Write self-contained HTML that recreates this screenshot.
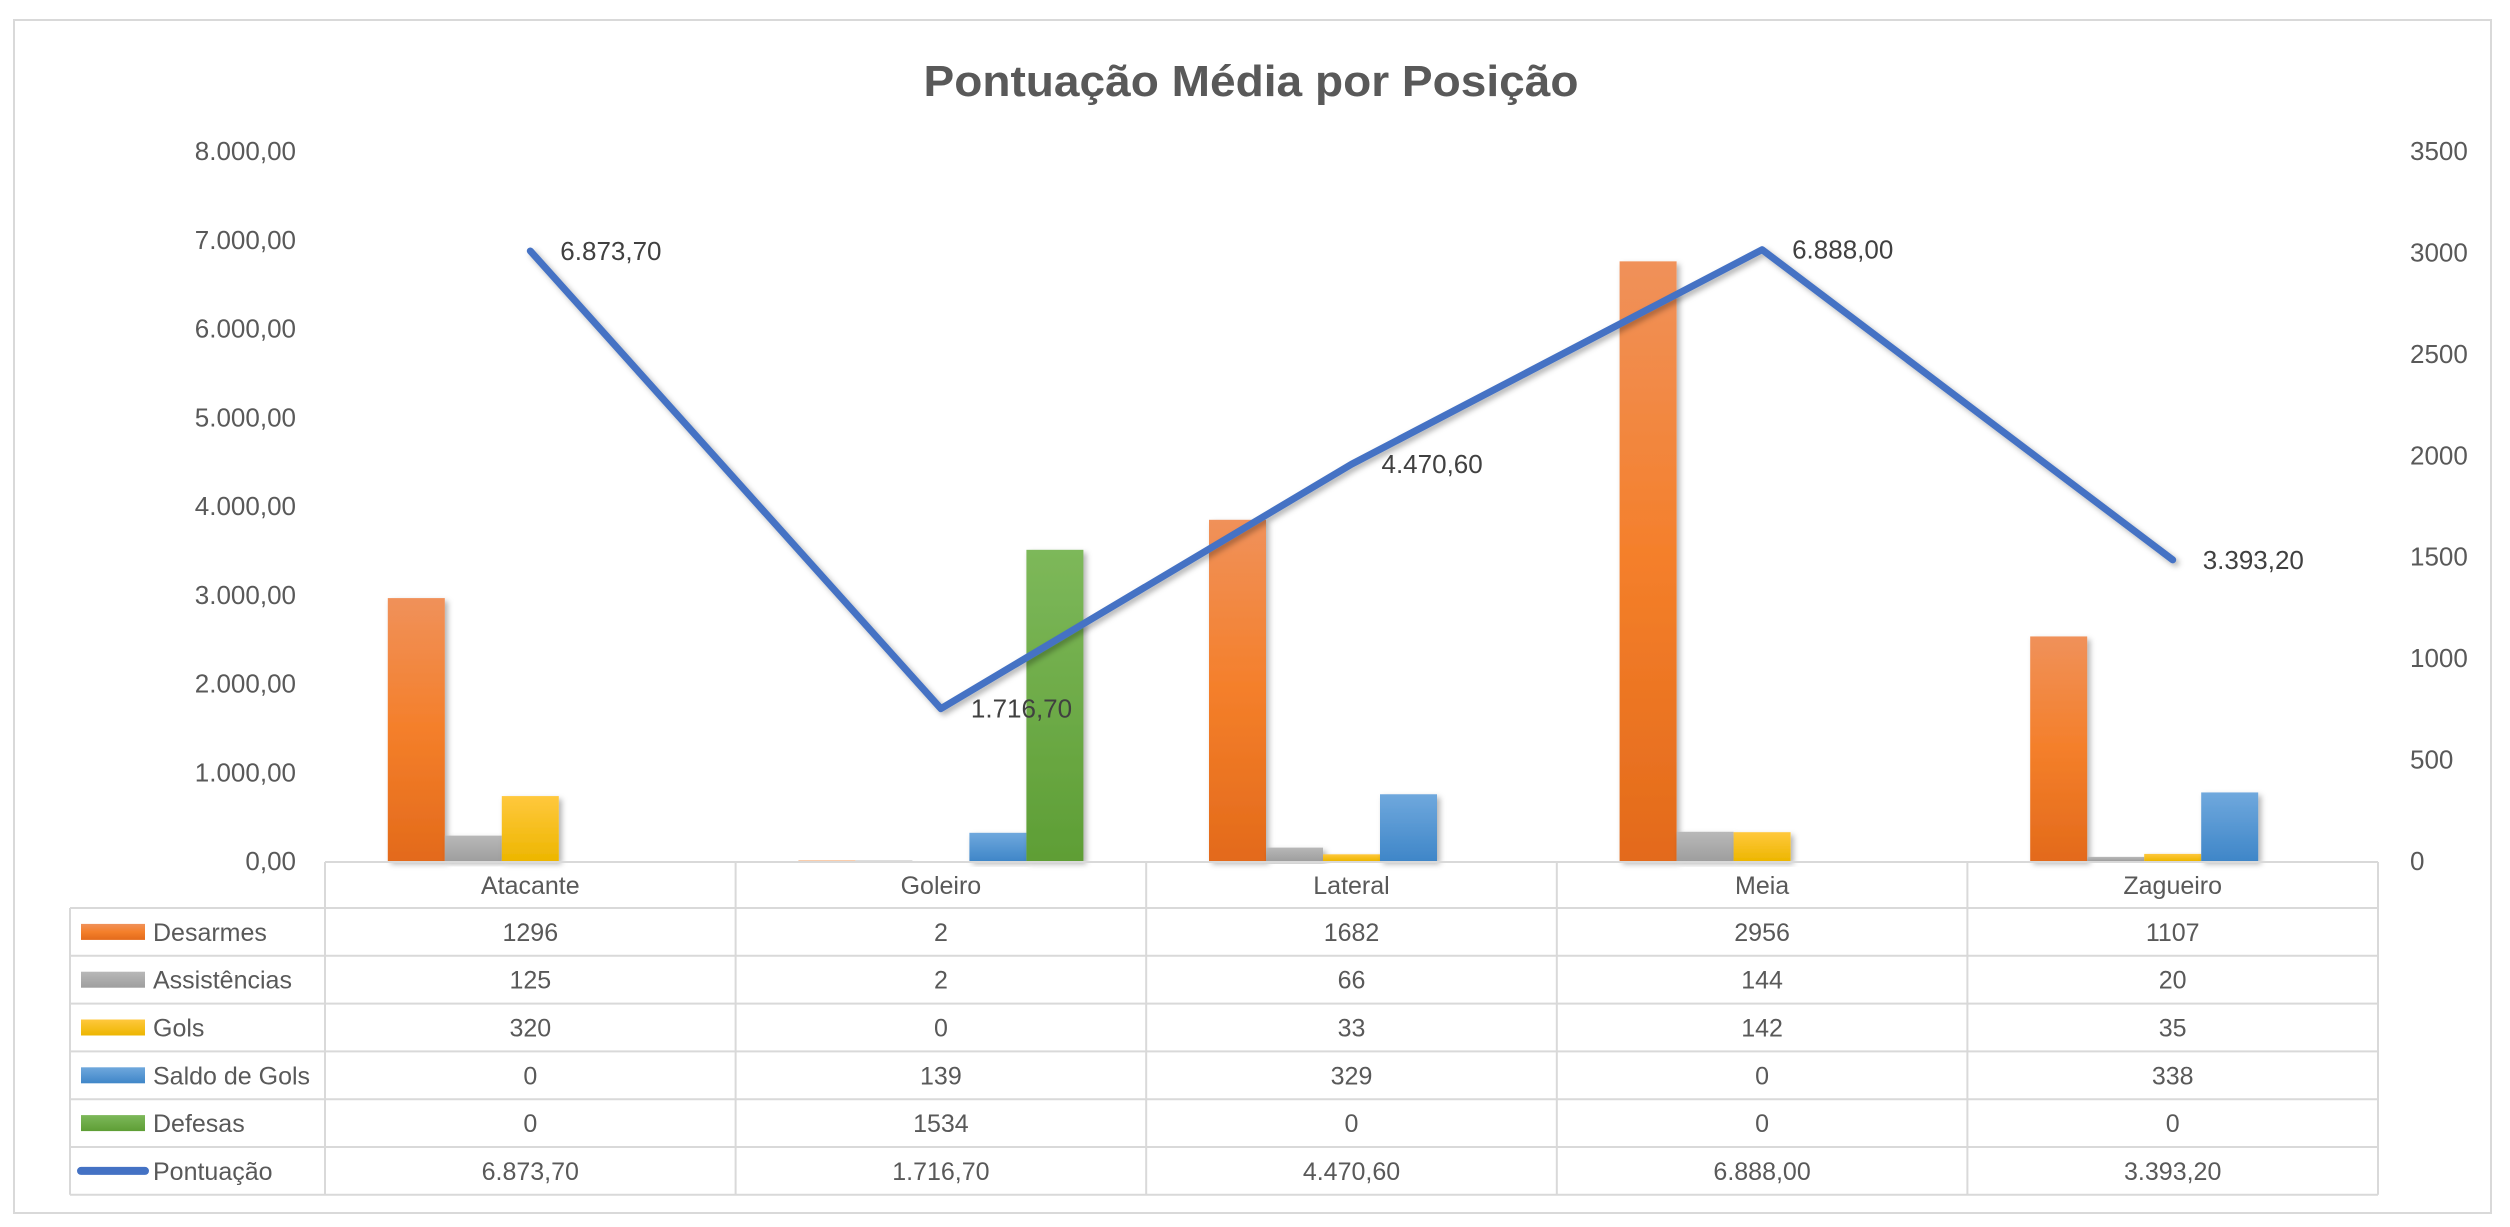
<!DOCTYPE html>
<html><head><meta charset="utf-8">
<style>
html,body{margin:0;padding:0;background:#fff;}
svg{display:block;font-family:"Liberation Sans",sans-serif;}
</style></head>
<body>
<svg id="chart" width="2510" height="1227" viewBox="0 0 2510 1227" xmlns="http://www.w3.org/2000/svg">
<defs>
<linearGradient id="gOrange" x1="0" y1="0" x2="0" y2="1"><stop offset="0" stop-color="#F0915A"/><stop offset="0.5" stop-color="#F47F2A"/><stop offset="1" stop-color="#E36A1B"/></linearGradient>
<linearGradient id="gGrey" x1="0" y1="0" x2="0" y2="1"><stop offset="0" stop-color="#B8B8B8"/><stop offset="1" stop-color="#9E9E9E"/></linearGradient>
<linearGradient id="gYellow" x1="0" y1="0" x2="0" y2="1"><stop offset="0" stop-color="#FFC83D"/><stop offset="1" stop-color="#EDB600"/></linearGradient>
<linearGradient id="gBlue" x1="0" y1="0" x2="0" y2="1"><stop offset="0" stop-color="#6FA8DD"/><stop offset="1" stop-color="#3F86C8"/></linearGradient>
<linearGradient id="gGreen" x1="0" y1="0" x2="0" y2="1"><stop offset="0" stop-color="#7DB85A"/><stop offset="1" stop-color="#5E9E35"/></linearGradient>
<filter id="shadow" x="-20%" y="-20%" width="140%" height="140%"><feDropShadow dx="3" dy="3" stdDeviation="3" flood-color="#000" flood-opacity="0.3"/></filter>
</defs>
<rect x="14" y="20" width="2477" height="1193" fill="#fff" stroke="#D9D9D9" stroke-width="2"/>
<text x="1251" y="96" text-anchor="middle" font-size="44" font-weight="bold" fill="#595959" textLength="655" lengthAdjust="spacingAndGlyphs">Pontuação Média por Posição</text>
<g id="axes"></g>
<g id="bars"></g>
<g id="line"></g>
<g id="table"></g>
</svg>
<script>
const categories = ["Atacante","Goleiro","Lateral","Meia","Zagueiro"];
const seriesNames = ["Desarmes","Assistências","Gols","Saldo de Gols","Defesas"];
const desarmes = [1296,2,1682,2956,1107];
const assistencias = [125,2,66,144,20];
const gols = [320,0,33,142,35];
const saldoGols = [0,139,329,0,338];
const defesas = [0,1534,0,0,0];
const pontuacao = [6873.70,1716.70,4470.60,6888.00,3393.20];
const leftTicks = [0,1000,2000,3000,4000,5000,6000,7000,8000];
const rightTicks = [0,500,1000,1500,2000,2500,3000,3500];

const NS = "http://www.w3.org/2000/svg";
const svg = document.getElementById('chart');
const plotLeft = 325, plotRight = 2378, baseY = 861, topY = 151;
const leftMax = 8000, rightMax = 3500;
const catW = (plotRight - plotLeft) / categories.length;
const barW = 57;
function xCenter(i){ return plotLeft + catW * (i + 0.5); }
function yLeft(v){ return baseY - (v / leftMax) * (baseY - topY); }
function yRight(v){ return baseY - (v / rightMax) * (baseY - topY); }
function fmtBR(v){
  const s = v.toFixed(2).split('.');
  return s[0].replace(/\B(?=(\d{3})+(?!\d))/g, '.') + ',' + s[1];
}
function mk(tag, attrs, parent, text){
  const el = document.createElementNS(NS, tag);
  for (const k in attrs) el.setAttribute(k, attrs[k]);
  if (text !== undefined) el.textContent = text;
  parent.appendChild(el);
  return el;
}
const axes = document.getElementById('axes');
leftTicks.forEach(t => {
  const el = mk('text', {x: 296, y: yLeft(t) + 9, 'text-anchor': 'end', 'font-size': 26, fill: '#595959'}, axes, fmtBR(t));
  
  
});
rightTicks.forEach(t => {
  const el = mk('text', {x: 2410, y: yRight(t) + 9, 'text-anchor': 'start', 'font-size': 26, fill: '#595959'}, axes, String(t));
  
  
});

const seriesData = [desarmes, assistencias, gols, saldoGols, defesas];
const fills = ["url(#gOrange)","url(#gGrey)","url(#gYellow)","url(#gBlue)","url(#gGreen)"];
const swatch = ["#EE7A33","#A5A5A5","#FFC000","#5B9BD5","#70AD47"];
const barsG = document.getElementById('bars');
seriesData.forEach((arr, s) => {
  arr.forEach((v, i) => {
    if (v <= 0) return;
    const x = xCenter(i) - barW * 2.5 + s * barW;
    const y = yRight(v);
    const r = mk('rect', {x: x, y: y, width: barW, height: baseY - y, fill: fills[s], filter: 'url(#shadow)'}, barsG);
    
    
  });
});

const lineG = document.getElementById('line');
const pts = pontuacao.map((v, i) => xCenter(i) + ',' + yLeft(v)).join(' ');
const pl = mk('polyline', {points: pts, fill: 'none', stroke: '#4472C4', 'stroke-width': 7, 'stroke-linecap': 'round', 'stroke-linejoin': 'round', filter: 'url(#shadow)'}, lineG);


pontuacao.forEach((v, i) => {
  const t = mk('text', {x: xCenter(i) + 30, y: yLeft(v) + 9, 'font-size': 26, fill: '#404040'}, lineG, fmtBR(v));
  
  
});

// data table
const tbl = document.getElementById('table');
const rowTop = 862, headH = 46, rowH = 47.8, legLeft = 70;
const lineStyle = {stroke: '#D9D9D9', 'stroke-width': 2};
const nRows = 6;
const bottom = rowTop + headH + rowH * nRows;
// header top line
let l = mk('line', Object.assign({x1: plotLeft, y1: rowTop, x2: plotRight, y2: rowTop}, lineStyle), tbl);


for (let r = 0; r <= nRows; r++) {
  const y = rowTop + headH + r * rowH;
  l = mk('line', Object.assign({x1: legLeft, y1: y, x2: plotRight, y2: y}, lineStyle), tbl);
  
  
}
l = mk('line', Object.assign({x1: legLeft, y1: rowTop + headH, x2: legLeft, y2: bottom}, lineStyle), tbl);


for (let c = 0; c <= categories.length; c++) {
  const x = plotLeft + c * catW;
  l = mk('line', Object.assign({x1: x, y1: rowTop, x2: x, y2: bottom}, lineStyle), tbl);
  
  
}
categories.forEach((c, i) => {
  const t = mk('text', {x: xCenter(i), y: rowTop + headH / 2 + 9, 'text-anchor': 'middle', 'font-size': 25, fill: '#595959'}, tbl, c);
  
  
});
const rowNames = seriesNames.concat(["Pontuação"]);
const rowData = seriesData.concat([pontuacao]);
rowNames.forEach((n, r) => {
  const cy = rowTop + headH + r * rowH + rowH / 2;
  let sw;
  if (r < 5) {
    sw = mk('rect', {x: 81, y: cy - 8, width: 64, height: 16, fill: fills[r]}, tbl);
  } else {
    sw = mk('line', {x1: 81, y1: cy, x2: 145, y2: cy, stroke: '#4472C4', 'stroke-width': 8, 'stroke-linecap': 'round'}, tbl);
  }
  
  
  const lt = mk('text', {x: 153, y: cy + 9, 'font-size': 25, fill: '#595959'}, tbl, n);
  
  
  rowData[r].forEach((v, i) => {
    const txt = r < 5 ? String(v) : fmtBR(v);
    const ct = mk('text', {x: xCenter(i), y: cy + 9, 'text-anchor': 'middle', 'font-size': 25, fill: '#595959'}, tbl, txt);
    
    
  });
});
</script>
</body></html>
